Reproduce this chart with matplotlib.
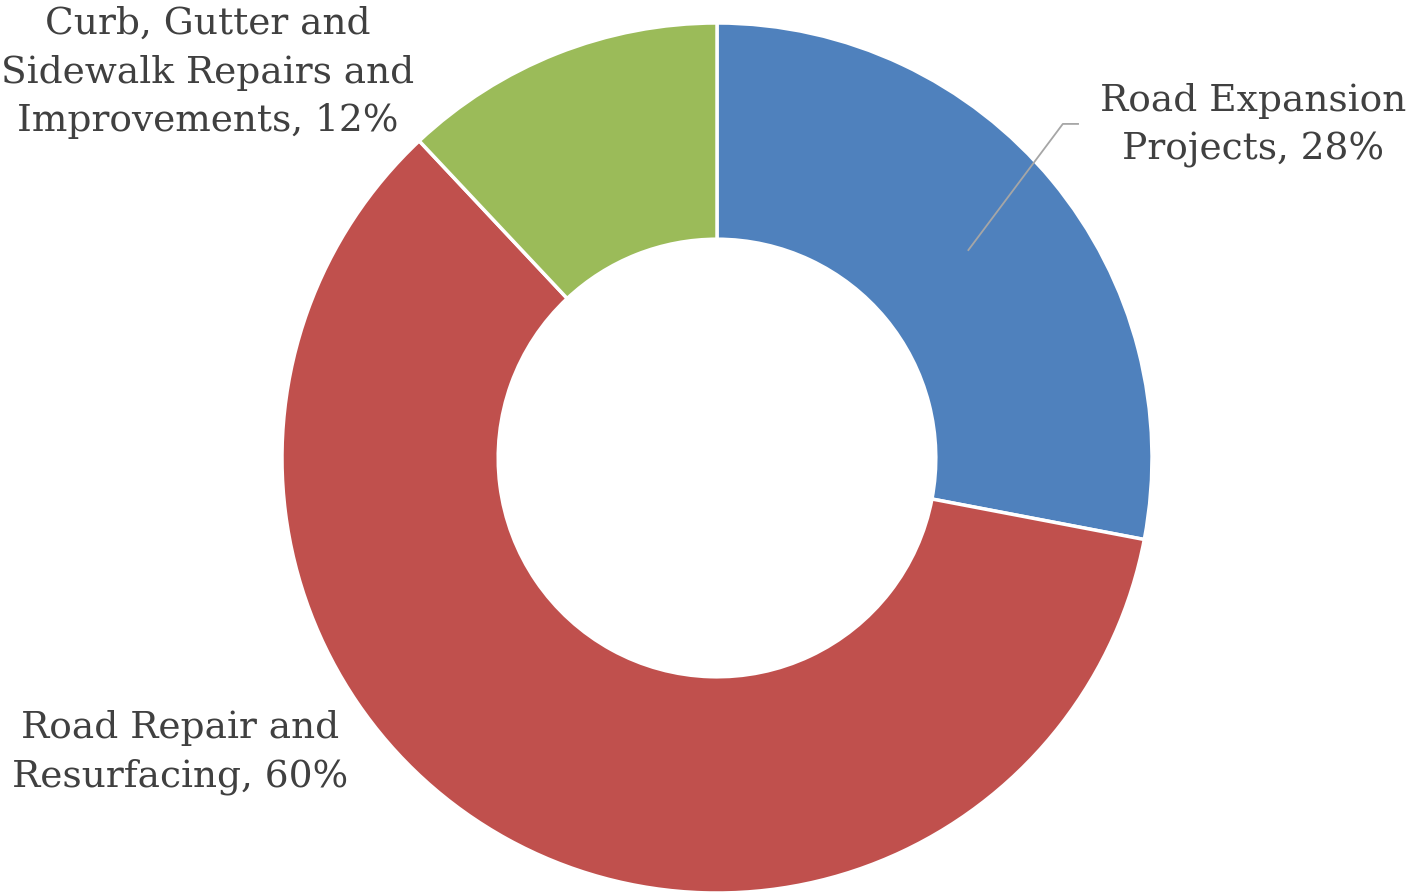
import matplotlib
matplotlib.use('Agg')
import matplotlib.pyplot as plt
import numpy as np

# spending shares
labels = ['Road Expansion\nProjects', 'Road Repair and\nResurfacing', 'Curb, Gutter and\nSidewalk Repairs and\nImprovements']
shares = [28, 60, 12]
colors = ['#4F81BD', '#C0504D', '#9BBB59']

W, H = 1410, 895
fig = plt.figure(figsize=(W / 100, H / 100), dpi=100)
fig.patch.set_facecolor('white')

# square axes in pixels, centred on the donut
cx, cy, R = 717, 459, 435
ax = fig.add_axes([(cx - R) / W, (H - cy - R) / H, 2 * R / W, 2 * R / H])

wedges, _ = ax.pie(shares, colors=colors, startangle=90, counterclock=False,
                   radius=1.0, wedgeprops=dict(width=0.497, edgecolor='white', linewidth=2.5))
ax.set_xlim(-1, 1)
ax.set_ylim(-1, 1)
ax.set_aspect('auto')
ax.axis('off')

txt = dict(family='DejaVu Serif', fontsize=27, color='#404040', ha='center', va='center',
           linespacing=1.45)
pos = [(1.232, 0.766), (-1.234, -0.674), (-1.170, 0.888)]
for lab, s, p in zip(labels, shares, pos):
    ax.text(p[0], p[1], '%s, %d%%' % (lab, s), clip_on=False, **txt)

# leader line for the blue slice
w = wedges[0]
mid = np.deg2rad((w.theta1 + w.theta2) / 2)
x0, y0 = 0.75 * np.cos(mid), 0.75 * np.sin(mid)
ax.plot([x0, 0.795, 0.830], [y0, 0.768, 0.768], color='#A6A6A6', lw=1.3, clip_on=False)

fig.savefig('out.png', dpi=100)
